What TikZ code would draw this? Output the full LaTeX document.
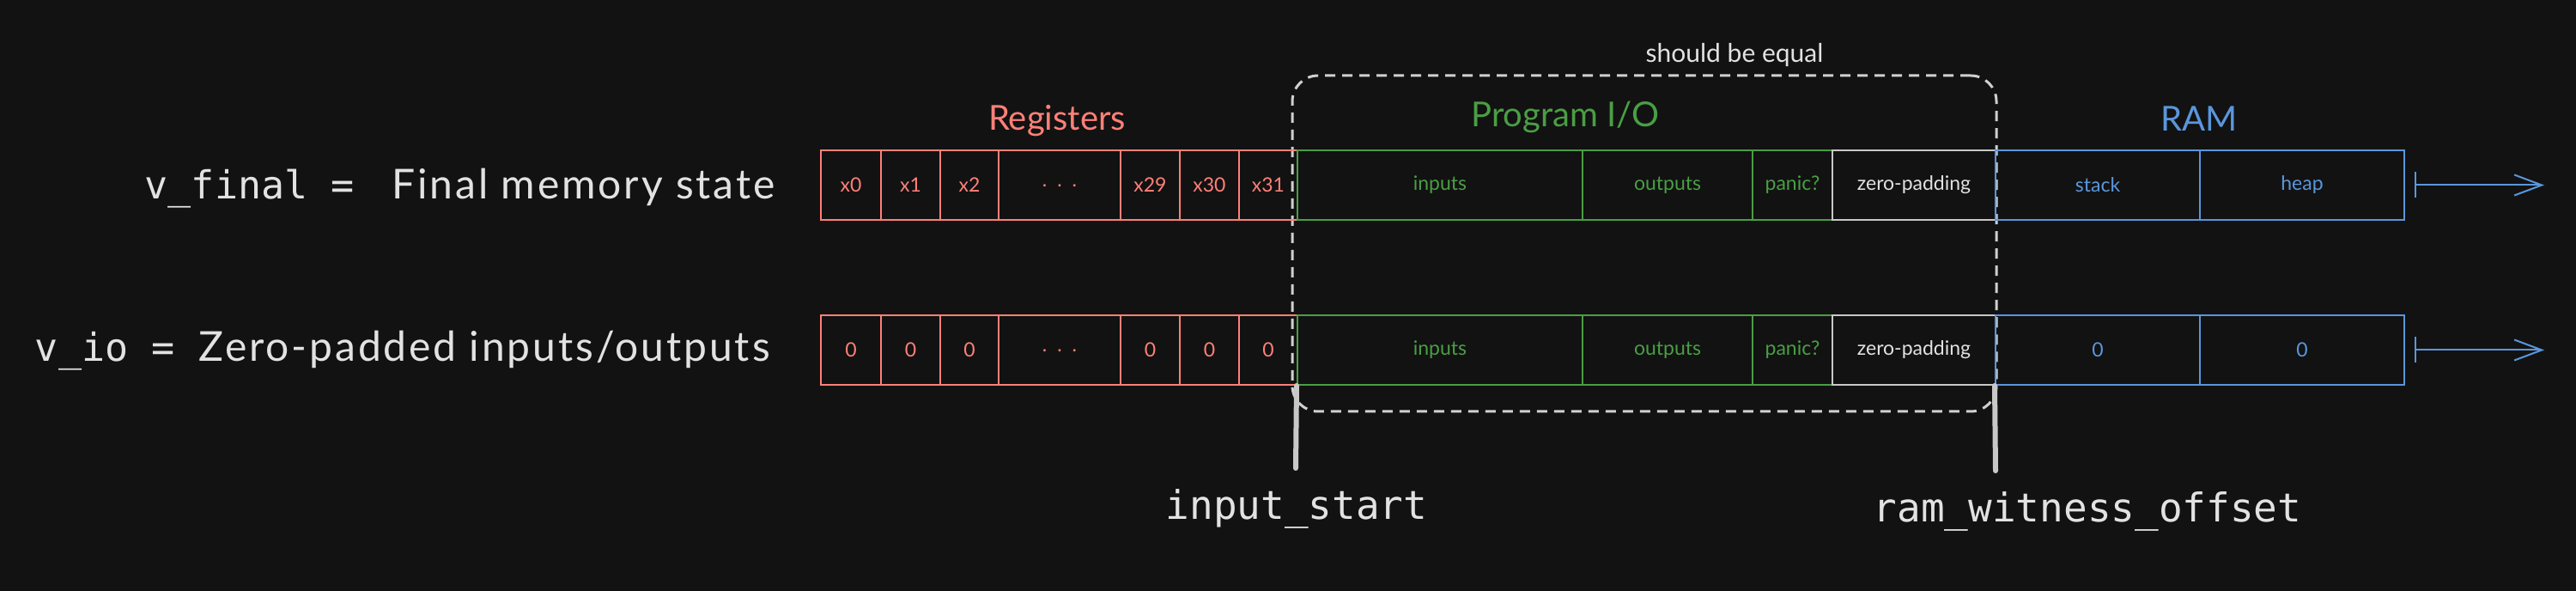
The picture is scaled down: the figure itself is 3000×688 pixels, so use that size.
\documentclass[tikz,border=0pt]{standalone}
\usepackage{fontspec}
\setmainfont{Lato}
\newfontfamily\hand{Lato}[LetterSpace=6]
\newfontfamily\mono{DejaVu Sans Mono}
\usetikzlibrary{arrows.meta}
\definecolor{bg}{HTML}{121212}
\definecolor{regred}{HTML}{FF8078}
\definecolor{iogreen}{HTML}{4A9E44}
\definecolor{ramblue}{HTML}{5A96DC}
\definecolor{padgray}{HTML}{C8C8C8}
\definecolor{txt}{HTML}{E2E2E2}
\definecolor{dashgray}{HTML}{D0D0D0}
\begin{document}
\begin{tikzpicture}[x=0.5pt,y=-0.5pt,
  cellbox/.style={draw=#1, text=#1, line width=1pt, minimum height=40.5pt, inner sep=0pt, anchor=west, font=\fontsize{11.5pt}{13pt}\selectfont},
  titletext/.style={text=#1, anchor=base, inner sep=0pt, font=\fontsize{20pt}{23pt}\selectfont},
  monolabel/.style={text=txt, anchor=base, inner sep=0pt, font=\mono\fontsize{23pt}{26pt}\selectfont},
  offmark/.style={draw=padgray, line width=3pt, line cap=round},
  growarrow/.style={draw=ramblue, line width=1pt, {Bar[width=15pt]}-{Straight Barb[length=16pt,width=12pt]}}
]
\fill[bg] (0,0) rectangle (3000,688);
\useasboundingbox (0,0) rectangle (3000,688);

% dashed "should be equal" box
\node[draw=dashgray, dash pattern=on 6pt off 4pt, line width=1.5pt, rounded corners=15pt,
      minimum width=410pt, minimum height=195.5pt, inner sep=0pt] (eq) at (1915,283.5) {};
\node[text=txt, anchor=base, inner sep=0pt, font=\fontsize{15pt}{17pt}\selectfont] (eqlbl) at (2020,73) {should be equal};

% section titles
\node[titletext=regred] (treg) at (1231,152) {Registers};
\node[titletext=iogreen] (tio) at (1823,148) {Program I/O};
\node[titletext=ramblue] (tram) at (2561,153) {RAM};

% row 1: final memory state
\node[cellbox=regred, minimum width=35pt]   (a0)  at (955,215.5)  {x0};
\node[cellbox=regred, minimum width=34.5pt] (a1)  at (1025,215.5) {x1};
\node[cellbox=regred, minimum width=34pt]   (a2)  at (1094,215.5) {x2};
\node[cellbox=regred, minimum width=71pt]   (a3)  at (1162,215.5) {\raisebox{-2pt}{.\hspace{6pt}.\hspace{6pt}.}};
\node[cellbox=regred, minimum width=34.5pt] (a4)  at (1304,215.5) {x29};
\node[cellbox=regred, minimum width=34.5pt] (a5)  at (1373,215.5) {x30};
\node[cellbox=regred, minimum width=34pt]   (a6)  at (1442,215.5) {x31};
\node[cellbox=iogreen, minimum width=166pt] (a7)  at (1510,215.5) {inputs};
\node[cellbox=iogreen, minimum width=99pt]  (a8)  at (1842,215.5) {outputs};
\node[cellbox=iogreen, minimum width=46.5pt] (a9) at (2040,215.5) {panic?};
\node[cellbox=padgray, text=txt, minimum width=95pt] (a10) at (2133,215.5) {zero-padding};
\node[cellbox=ramblue, minimum width=119pt] (a11) at (2323,215.5) {stack};
\node[cellbox=ramblue, minimum width=119pt] (a12) at (2561,215.5) {heap};

% row 2: zero-padded io
\node[cellbox=regred, minimum width=35pt]   (b0)  at (955,407.5)  {0};
\node[cellbox=regred, minimum width=34.5pt] (b1)  at (1025,407.5) {0};
\node[cellbox=regred, minimum width=34pt]   (b2)  at (1094,407.5) {0};
\node[cellbox=regred, minimum width=71pt]   (b3)  at (1162,407.5) {\raisebox{-2pt}{.\hspace{6pt}.\hspace{6pt}.}};
\node[cellbox=regred, minimum width=34.5pt] (b4)  at (1304,407.5) {0};
\node[cellbox=regred, minimum width=34.5pt] (b5)  at (1373,407.5) {0};
\node[cellbox=regred, minimum width=34pt]   (b6)  at (1442,407.5) {0};
\node[cellbox=iogreen, minimum width=166pt] (b7)  at (1510,407.5) {inputs};
\node[cellbox=iogreen, minimum width=99pt]  (b8)  at (1842,407.5) {outputs};
\node[cellbox=iogreen, minimum width=46.5pt] (b9) at (2040,407.5) {panic?};
\node[cellbox=padgray, text=txt, minimum width=95pt] (b10) at (2133,407.5) {zero-padding};
\node[cellbox=ramblue, minimum width=119pt] (b11) at (2323,407.5) {0};
\node[cellbox=ramblue, minimum width=119pt] (b12) at (2561,407.5) {0};

% growth arrows
\coordinate (ta) at (2963,215.5);
\coordinate (tb) at (2963,407.5);
\draw[growarrow] ([xshift=5.5pt]a12.east) -- (ta);
\draw[growarrow] ([xshift=5.5pt]b12.east) -- (tb);

% left labels
\node[anchor=base east, text=txt, inner sep=0pt, font=\hand\fontsize{24pt}{28pt}\selectfont] (vfinal) at (903,232)
  {{\mono\fontsize{22.5pt}{26pt}\selectfont v\_final =}\hspace{22pt}Final memory state};
\node[anchor=base east, text=txt, inner sep=0pt, font=\hand\fontsize{24pt}{28pt}\selectfont] (vio) at (897,421)
  {{\mono\fontsize{22.5pt}{26pt}\selectfont v\_io =}\hspace{14pt}Zero-padded inputs/outputs};

% offset markers
\coordinate (ea) at (1509,545);
\coordinate (eb) at (2324,548);
\draw[offmark] (b7.south west) -- (ea);
\draw[offmark] (b11.south west) -- (eb);
\node[monolabel] (lis) at (1510,605) {input\_start};
\node[monolabel] (lrw) at (2431,608) {ram\_witness\_offset};
\end{tikzpicture}
\end{document}
